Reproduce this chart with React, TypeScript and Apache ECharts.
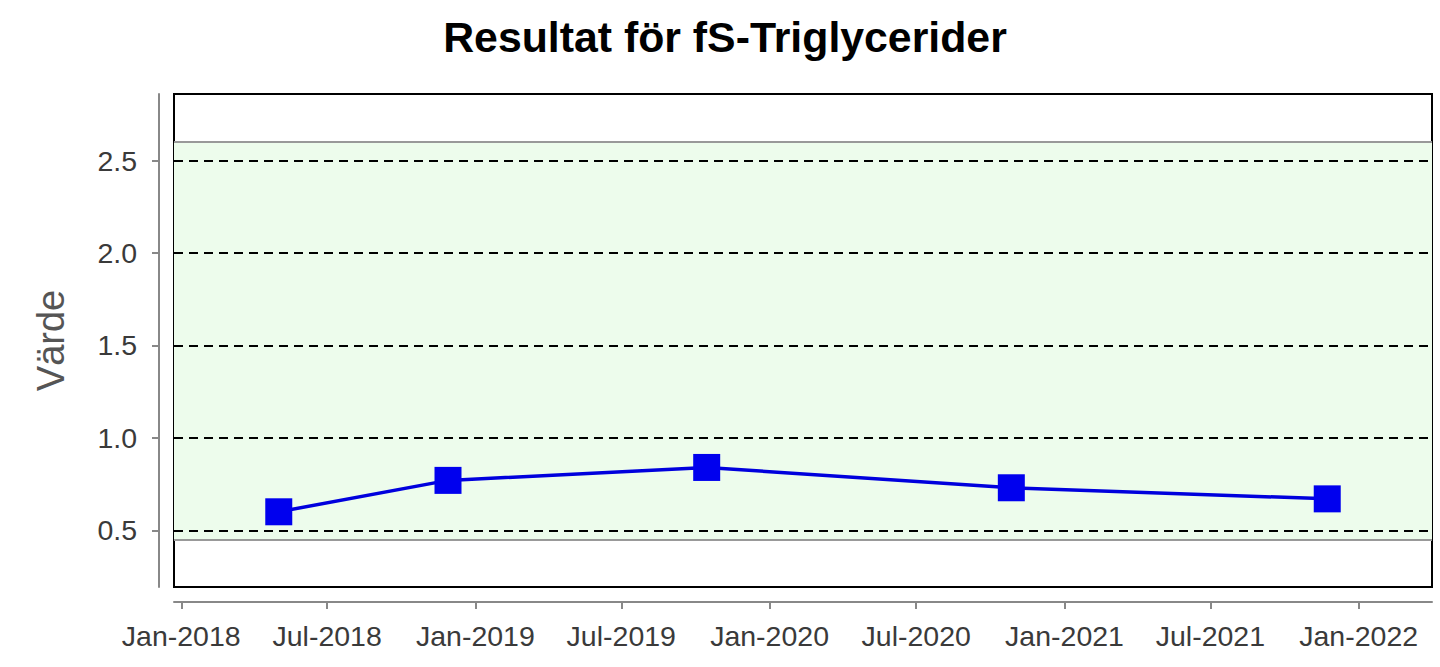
import React, { useEffect, useRef } from "react";
import * as echarts from "echarts";

const titleText = "Resultat för fS-Triglycerider";
const yAxisName = "Värde";
const sampleDates = ["2018-05-02", "2018-11-28", "2019-10-15", "2020-10-27", "2021-11-23"];
const sampleValues = [0.6, 0.77, 0.84, 0.73, 0.67];
const xTickDates = [
  "2018-01-01", "2018-07-01", "2019-01-01", "2019-07-01", "2020-01-01",
  "2020-07-01", "2021-01-01", "2021-07-01", "2022-01-01",
];
const yTicks = [0.5, 1.0, 1.5, 2.0, 2.5];
const refLow = 0.45;
const refHigh = 2.6;
const xMinDate = "2017-12-23";
const xMaxDate = "2022-04-02";
const yMin = 0.193;
const yMax = 2.861;
const monthNames = ["Jan", "Feb", "Mar", "Apr", "May", "Jun", "Jul", "Aug", "Sep", "Oct", "Nov", "Dec"];

const ts = (d: string) => Date.parse(d + "T00:00:00Z");
const FONT = "'Liberation Sans', Arial, sans-serif";

export default function App() {
  const ref = useRef<HTMLDivElement>(null);
  useEffect(() => {
    if (!ref.current) return;
    const chart = echarts.init(ref.current, undefined, { renderer: "svg" });
    const tickTs = xTickDates.map(ts);
    chart.setOption({
      animation: false,
      backgroundColor: "#ffffff",
      title: {
        text: titleText,
        left: 720,
        textAlign: "center",
        top: 10,
        textStyle: { fontFamily: FONT, fontSize: 42.8, fontWeight: "bold", color: "#000" },
      },
      grid: {
        left: 174,
        top: 94,
        right: 8,
        bottom: 80,
        show: true,
        borderColor: "#000",
        borderWidth: 2,
        backgroundColor: "transparent",
      },
      xAxis: {
        type: "value",
        min: ts(xMinDate),
        max: ts(xMaxDate),
        offset: 15,
        axisLine: { show: true, lineStyle: { color: "#888", width: 2 } },
        axisTick: { show: true, customValues: tickTs, length: 7, lineStyle: { color: "#888", width: 2 } },
        axisLabel: {
          customValues: tickTs,
          margin: 19,
          fontFamily: FONT,
          fontSize: 28.5,
          color: "#3a3a3a",
          formatter: (v: number) => {
            const d = new Date(v);
            return monthNames[d.getUTCMonth()] + "-" + d.getUTCFullYear();
          },
        },
        splitLine: { show: false },
      },
      yAxis: {
        type: "value",
        min: yMin,
        max: yMax,
        offset: 15,
        name: yAxisName,
        nameLocation: "middle",
        nameRotate: 90,
        nameGap: 89,
        nameTextStyle: { fontFamily: FONT, fontSize: 38, color: "#555" },
        axisLine: { show: true, lineStyle: { color: "#888", width: 2 } },
        axisTick: { show: true, customValues: yTicks, length: 7, lineStyle: { color: "#888", width: 2 } },
        axisLabel: {
          customValues: yTicks,
          margin: 22,
          fontFamily: FONT,
          fontSize: 28.5,
          color: "#3a3a3a",
          formatter: (v: number) => v.toFixed(1),
        },
        splitLine: { show: false },
      },
      series: [
        {
          type: "line",
          data: sampleDates.map((d, i) => [ts(d), sampleValues[i]]),
          symbol: "rect",
          symbolSize: 27,
          itemStyle: { color: "#0000EE" },
          lineStyle: { color: "#0000DD", width: 3.5 },
          z: 10,
          markArea: {
            silent: true,
            itemStyle: { color: "#EDFCEC" },
            data: [[{ yAxis: refLow }, { yAxis: refHigh }]],
            z: 1,
          },
          markLine: {
            silent: true,
            symbol: "none",
            label: { show: false },
            data: [
              { yAxis: refLow, lineStyle: { color: "#999", width: 2, type: "solid" } },
              { yAxis: refHigh, lineStyle: { color: "#999", width: 2, type: "solid" } },
              ...yTicks.map((y) => ({ yAxis: y, lineStyle: { color: "#000", width: 2, type: [9, 6] } })),
            ],
          },
        },
      ],
    });
    return () => chart.dispose();
  }, []);
  return (
    <div
      ref={ref}
      style={{ position: "fixed", left: 0, top: 0, width: 1440, height: 667 }}
    />
  );
}
